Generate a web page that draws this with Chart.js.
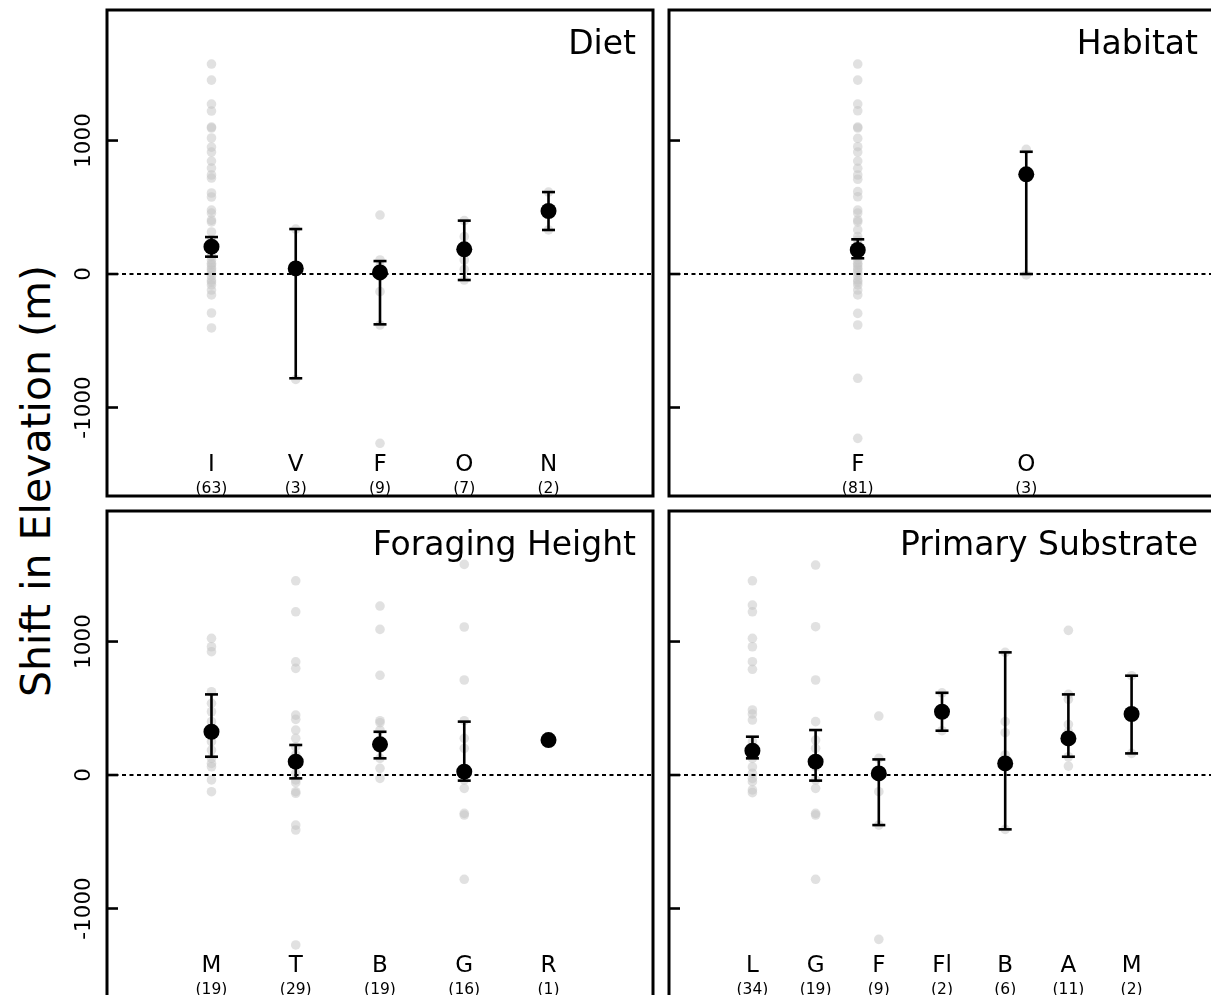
<!DOCTYPE html>
<html>
<head>
<meta charset="utf-8">
<script src="https://cdn.jsdelivr.net/npm/chart.js@4.4.0/dist/chart.umd.min.js"></script>
<style>
  html, body { margin: 0; padding: 0; background: #fff; overflow: hidden; }
  body { width: 1211px; height: 995px; position: relative; }
  canvas { position: absolute; }
  #ylab {
    position: absolute; left: 36px; top: 481px;
    font: 41px "DejaVu Sans"; color: #000; white-space: nowrap;
    transform: translate(-50%, -50%) rotate(-90deg);
  }
</style>
</head>
<body>
<div id="ylab">Shift in Elevation (m)</div>
<canvas id="diet" width="603" height="506" style="left:60px;top:0px"></canvas>
<canvas id="habitat" width="566" height="506" style="left:659px;top:0px"></canvas>
<canvas id="forage" width="603" height="506" style="left:60px;top:501px"></canvas>
<canvas id="substrate" width="566" height="506" style="left:659px;top:501px"></canvas>
<script>
// shared y axis
const yTicks = [-1000, 0, 1000];
const yMin = -1663, yMax = 1978;

// Diet
const dietCats = ['I', 'V', 'F', 'O', 'N'];
const dietN = [63, 3, 9, 7, 2];
const dietX = [1, 2, 3, 4, 5];
const dietPts = [
  [1573, 1453, 1273, 1221, 1101, 1094, 1019, 951, 914, 846, 794, 742, 719, 607, 577, 479, 457, 404, 390, 315,
   255, 225, 180, 150, 130, 105, 80, 67, 45, 30, 10, -15, -45, -60, -82, -120, -157, -292, -404],
  [337, 42, -790],
  [442, 105, 60, 30, 12, -20, -132, -382, -1268],
  [400, 280, 200, 185, 105, 35, -45],
  [614, 330]
];
const dietMean = [205, 42, 12, 185, 472];
const dietLo = [130, -781, -377, -45, 330];
const dietHi = [277, 337, 97, 400, 614];

// Habitat
const habCats = ['F', 'O'];
const habN = [81, 3];
const habX = [2, 4];
const habPts = [
  [1573, 1453, 1273, 1223, 1101, 1094, 1016, 954, 914, 846, 792, 742, 710, 617, 579, 479, 457, 404, 390, 330,
   280, 255, 225, 200, 150, 130, 105, 80, 67, 45, 30, 10, -15, -45, -60, -82, -120, -157, -295, -382, -781, -1231],
  [934, 747, -7]
];
const habMean = [180, 747];
const habLo = [118, 0];
const habHi = [260, 916];

// Foraging height
const forCats = ['M', 'T', 'B', 'G', 'R'];
const forN = [19, 29, 19, 16, 1];
const forX = [1, 2, 3, 4, 5];
const forPts = [
  [1024, 961, 924, 624, 537, 474, 400, 312, 250, 187, 125, 87, 62, -37, -125],
  [1455, 1223, 848, 799, 449, 417, 337, 275, 212, 150, 100, 12, -37, -57, -125, -137, -375, -412, -1273],
  [1266, 1091, 747, 407, 392, 337, 237, 200, 125, 50, -25],
  [1578, 1109, 712, 407, 275, 200, 25, -37, -100, -287, -300, -781],
  [262]
];
const forMean = [324, 100, 230, 25, 262];
const forLo = [137, -25, 125, -42, null];
const forHi = [604, 225, 324, 400, null];

// Primary substrate
const subCats = ['L', 'G', 'F', 'Fl', 'B', 'A', 'M'];
const subN = [34, 19, 9, 2, 6, 11, 2];
const subX = [1, 2, 3, 4, 5, 6, 7];
const subPts = [
  [1455, 1273, 1223, 1024, 961, 849, 792, 487, 457, 412, 250, 175, 125, 60, 12, -25, -50, -112, -132],
  [1573, 1111, 712, 400, 262, 200, 62, -37, -100, -287, -300, -781],
  [442, 125, 12, -125, -375, -1231],
  [616, 332],
  [919, 400, 317, 150, 87, -407],
  [1084, 604, 567, 379, 324, 274, 137, 67],
  [744, 162]
];
const subMean = [182, 100, 12, 474, 87, 274, 457];
const subLo = [125, -42, -375, 332, -407, 137, 162];
const subHi = [287, 337, 117, 616, 919, 604, 744];

const FONT = '"DejaVu Sans"';

// frame, inward ticks, tick labels, category labels and panel title
const panelDecor = {
  id: 'panelDecor',
  afterDraw(chart, args, o) {
    const { ctx, chartArea: a, scales: { x, y } } = chart;
    ctx.save();
    ctx.strokeStyle = '#000';
    ctx.fillStyle = '#000';
    ctx.lineWidth = 2.6;
    yTicks.forEach(v => {
      const py = y.getPixelForValue(v);
      ctx.beginPath();
      ctx.moveTo(a.left, py);
      ctx.lineTo(a.left + 11, py);
      ctx.stroke();
      if (o.tickLabels) {
        ctx.save();
        ctx.translate(a.left - 17, py);
        ctx.rotate(-Math.PI / 2);
        ctx.font = '21.5px ' + FONT;
        ctx.textAlign = 'center';
        ctx.textBaseline = 'alphabetic';
        ctx.fillText(String(v), 0, 0);
        ctx.restore();
      }
    });
    ctx.lineWidth = 3;
    ctx.strokeRect(a.left, a.top, a.right - a.left, a.bottom - a.top);

    ctx.textAlign = 'center';
    ctx.textBaseline = 'alphabetic';
    o.cats.forEach((c, i) => {
      const px = x.getPixelForValue(o.xs[i]);
      ctx.font = '23px ' + FONT;
      ctx.fillText(c, px, a.bottom - 25);
      ctx.font = '15.5px ' + FONT;
      ctx.fillText('(' + o.ns[i] + ')', px, a.bottom - 3.5);
    });

    ctx.font = '33px ' + FONT;
    ctx.textAlign = 'right';
    ctx.fillText(o.title, a.right - 17, a.top + 44);
    ctx.restore();
  }
};

function panel(id, title, cats, ns, xs, pts, mean, lo, hi, xSpan, tickLabels, pad) {
  const xmin = -0.04 * xSpan, xmax = 1.04 * xSpan;
  const raw = pts.flatMap((vals, i) => vals.map(v => ({ x: xs[i], y: v })));
  const stems = [], caps = [];
  xs.forEach((xv, i) => {
    if (lo[i] === null) return;
    stems.push({ x: xv, y: lo[i] }, { x: xv, y: hi[i] }, { x: xv, y: null });
    caps.push({ x: xv, y: lo[i] }, { x: xv, y: hi[i] });
  });
  new Chart(document.getElementById(id), {
    type: 'scatter',
    data: {
      datasets: [
        { data: raw, order: 4, pointRadius: 4.8, backgroundColor: 'rgba(195,195,195,0.5)', borderWidth: 0 },
        { type: 'line', data: [{ x: xmin, y: 0 }, { x: xmax, y: 0 }], order: 3,
          borderColor: '#000', borderWidth: 2.2, borderDash: [4, 3.5], pointRadius: 0 },
        { type: 'line', data: stems, order: 2, spanGaps: false,
          borderColor: '#000', borderWidth: 2.6, pointRadius: 0 },
        { data: caps, order: 1, pointStyle: 'line', pointRadius: 6.5,
          borderColor: '#000', borderWidth: 2.6 },
        { data: mean.map((m, i) => ({ x: xs[i], y: m })), order: 0,
          pointRadius: 8, backgroundColor: '#000', borderWidth: 0 }
      ]
    },
    options: {
      responsive: false,
      animation: false,
      events: [],
      layout: { padding: pad },
      scales: {
        x: { type: 'linear', display: false, min: xmin, max: xmax },
        y: { type: 'linear', display: false, min: yMin, max: yMax }
      },
      plugins: {
        legend: { display: false },
        tooltip: { enabled: false },
        panelDecor: { title, cats, ns, xs, tickLabels }
      }
    },
    plugins: [panelDecor]
  });
}

const padL = { left: 47, right: 10, top: 10, bottom: 10 };
const padR = { left: 10, right: 10, top: 10, bottom: 10 };
panel('diet', 'Diet', dietCats, dietN, dietX, dietPts, dietMean, dietLo, dietHi, 6, true, padL);
panel('habitat', 'Habitat', habCats, habN, habX, habPts, habMean, habLo, habHi, 6, false, padR);
panel('forage', 'Foraging Height', forCats, forN, forX, forPts, forMean, forLo, forHi, 6, true, padL);
panel('substrate', 'Primary Substrate', subCats, subN, subX, subPts, subMean, subLo, subHi, 8, false, padR);
</script>
</body>
</html>
